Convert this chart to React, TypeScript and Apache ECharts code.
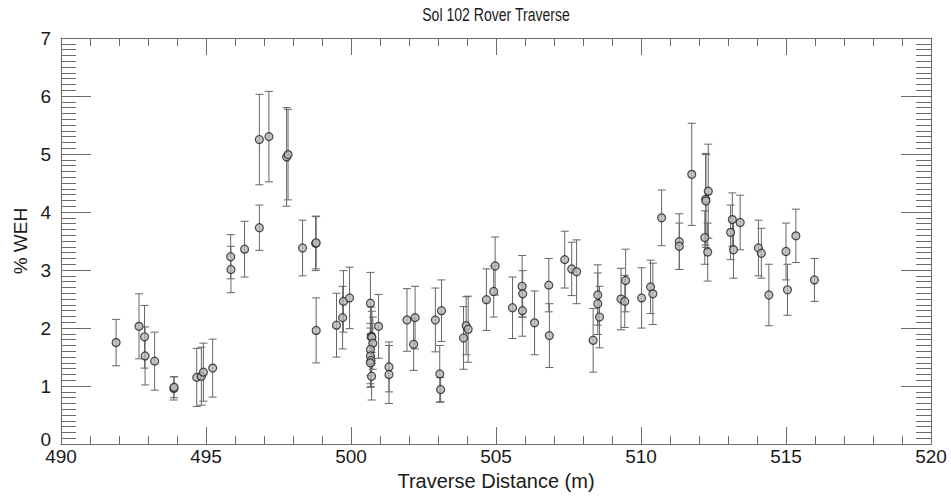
import React, { useEffect, useRef } from "react";
import * as echarts from "echarts";

const titleText = "Sol 102 Rover Traverse";
const xAxisName = "Traverse Distance (m)";
const yAxisName = "% WEH";

const distance = [
  491.90, 492.69, 492.88, 492.90, 493.23, 493.89, 493.90, 494.68, 494.84, 494.91,
  495.23, 495.85, 495.86, 496.33, 496.84, 496.84, 497.17, 497.78, 497.83, 498.33,
  498.78, 498.80, 498.80, 499.50, 499.71, 499.74, 499.95, 500.67, 500.70, 500.72,
  500.75, 500.67, 500.67, 500.69, 500.67, 500.71, 500.95, 501.31, 501.31, 501.93,
  502.21, 502.16, 502.91, 503.12, 503.06, 503.09, 503.88, 503.97, 504.04, 504.67,
  504.92, 504.97, 505.57, 505.90, 505.92, 505.91, 506.33, 506.82, 506.84, 507.37,
  507.61, 507.78, 508.35, 508.51, 508.51, 508.57, 509.31, 509.44, 509.47, 510.02,
  510.33, 510.41, 510.71, 511.32, 511.32, 511.75, 512.23, 512.24, 512.32, 512.20,
  512.30, 513.09, 513.15, 513.19, 513.42, 514.05, 514.15, 514.41, 515.00, 515.05,
  515.34, 515.98,
];

const weh = [
  1.75, 2.03, 1.85, 1.52, 1.43, 0.96, 0.98, 1.15, 1.17, 1.24,
  1.31, 3.23, 3.01, 3.36, 5.25, 3.73, 5.30, 4.95, 4.99, 3.38,
  3.46, 3.47, 1.96, 2.05, 2.18, 2.46, 2.52, 2.43, 1.86, 1.84,
  1.74, 1.63, 1.52, 1.44, 1.40, 1.17, 2.03, 1.33, 1.20, 2.14,
  2.18, 1.72, 2.14, 2.30, 1.21, 0.94, 1.83, 2.04, 1.98, 2.49,
  2.63, 3.07, 2.35, 2.72, 2.59, 2.30, 2.09, 2.74, 1.87, 3.18,
  3.02, 2.97, 1.79, 2.57, 2.42, 2.19, 2.50, 2.46, 2.82, 2.52,
  2.71, 2.59, 3.90, 3.49, 3.41, 4.65, 4.22, 4.19, 4.36, 3.56,
  3.31, 3.65, 3.87, 3.35, 3.82, 3.38, 3.29, 2.57, 3.32, 2.66,
  3.59, 2.83,
];

const wehError = [
  0.40, 0.56, 0.54, 0.50, 0.50, 0.20, 0.18, 0.50, 0.50, 0.50,
  0.50, 0.38, 0.40, 0.48, 0.78, 0.39, 0.78, 0.85, 0.78, 0.48,
  0.47, 0.45, 0.56, 0.55, 0.54, 0.53, 0.53, 0.53, 0.50, 0.45,
  0.45, 0.45, 0.48, 0.45, 0.42, 0.41, 0.55, 0.43, 0.50, 0.54,
  0.54, 0.45, 0.55, 0.53, 0.49, 0.21, 0.54, 0.50, 0.57, 0.53,
  0.44, 0.50, 0.53, 0.53, 0.40, 0.44, 0.55, 0.46, 0.55, 0.49,
  0.46, 0.55, 0.55, 0.52, 0.53, 0.53, 0.53, 0.45, 0.54, 0.52,
  0.46, 0.53, 0.48, 0.48, 0.40, 0.88, 0.79, 0.80, 0.81, 0.46,
  0.50, 0.47, 0.46, 0.49, 0.47, 0.48, 0.43, 0.53, 0.49, 0.44,
  0.46, 0.37,
];

const FONT = "Liberation Sans, Arial, Helvetica, sans-serif";
const AXIS_COLOR = "#6a6a6a";
const TEXT_COLOR = "#1a1a1a";

export default function App() {
  const ref = useRef<HTMLDivElement>(null);

  useEffect(() => {
    if (!ref.current) return;
    const chart = echarts.init(ref.current, null, { renderer: "svg" });

    const points = distance.map((d, i) => [d, weh[i]]);
    const errData = distance.map((d, i) => [d, weh[i], wehError[i]]);

    const baseX = {
      type: "value" as const,
      min: 490,
      max: 520,
      interval: 5,
      axisLine: { show: true, onZero: false, lineStyle: { color: AXIS_COLOR, width: 1 } },
      axisTick: { show: true, inside: true, length: 17, lineStyle: { color: AXIS_COLOR } },
      minorTick: { show: true, splitNumber: 5, length: 8, lineStyle: { color: AXIS_COLOR } },
      splitLine: { show: false },
      minorSplitLine: { show: false },
    };
    const baseY = {
      type: "value" as const,
      min: 0,
      max: 7,
      interval: 1,
      axisLine: { show: true, onZero: false, lineStyle: { color: AXIS_COLOR, width: 1 } },
      axisTick: { show: true, inside: true, length: 30, lineStyle: { color: AXIS_COLOR } },
      minorTick: { show: true, splitNumber: 10, length: 15, lineStyle: { color: AXIS_COLOR } },
      splitLine: { show: false },
      minorSplitLine: { show: false },
    };

    chart.setOption({
      animation: false,
      backgroundColor: "#ffffff",
      graphic: [
        {
          type: "text",
          x: 496,
          y: 15,
          scaleX: 0.74,
          style: {
            text: titleText,
            fontFamily: FONT,
            fontSize: 19,
            fill: TEXT_COLOR,
            align: "center",
            verticalAlign: "middle",
          },
        },
      ],
      grid: { left: 61, right: 20, top: 38, bottom: 50, containLabel: false },
      xAxis: [
        {
          ...baseX,
          position: "bottom",
          name: xAxisName,
          nameLocation: "middle",
          nameGap: 26,
          nameTextStyle: { fontFamily: FONT, fontSize: 20, color: TEXT_COLOR },
          axisLabel: { show: true, margin: 3, fontFamily: FONT, fontSize: 19, color: TEXT_COLOR },
        },
        {
          ...baseX,
          position: "top",
          axisLabel: { show: false },
        },
      ],
      yAxis: [
        {
          ...baseY,
          position: "left",
          name: yAxisName,
          nameLocation: "middle",
          nameGap: 27,
          nameRotate: 90,
          nameTextStyle: { fontFamily: FONT, fontSize: 19, color: TEXT_COLOR },
          axisLabel: {
            show: true,
            margin: 10,
            fontFamily: FONT,
            fontSize: 19,
            color: TEXT_COLOR,
            formatter: (v: number) => (v === 0 ? "{z|0}" : String(v)),
            rich: {
              z: { fontFamily: FONT, fontSize: 19, color: TEXT_COLOR, padding: [0, 0, 10, 0] },
            },
          },
        },
        {
          ...baseY,
          position: "right",
          axisLabel: { show: false },
        },
      ],
      series: [
        {
          type: "custom",
          xAxisIndex: 0,
          yAxisIndex: 0,
          data: errData,
          encode: { x: 0, y: 1 },
          z: 2,
          renderItem: (_params: any, api: any) => {
            const x = api.value(0);
            const y = api.value(1);
            const e = api.value(2);
            const top = api.coord([x, y + e]);
            const bot = api.coord([x, y - e]);
            const hw = 4;
            const style = { stroke: "#666666", lineWidth: 1 };
            return {
              type: "group",
              children: [
                { type: "line", shape: { x1: top[0], y1: top[1], x2: bot[0], y2: bot[1] }, style },
                { type: "line", shape: { x1: top[0] - hw, y1: top[1], x2: top[0] + hw, y2: top[1] }, style },
                { type: "line", shape: { x1: bot[0] - hw, y1: bot[1], x2: bot[0] + hw, y2: bot[1] }, style },
              ],
            };
          },
        },
        {
          type: "scatter",
          xAxisIndex: 0,
          yAxisIndex: 0,
          data: points,
          symbol: "circle",
          symbolSize: 8,
          z: 3,
          itemStyle: { color: "#b8b8b8", borderColor: "#222222", borderWidth: 1.2 },
        },
      ],
    });

    return () => chart.dispose();
  }, []);

  return (
    <div
      ref={ref}
      style={{ position: "fixed", left: 0, top: 0, width: 951, height: 496, background: "#fff" }}
    />
  );
}
